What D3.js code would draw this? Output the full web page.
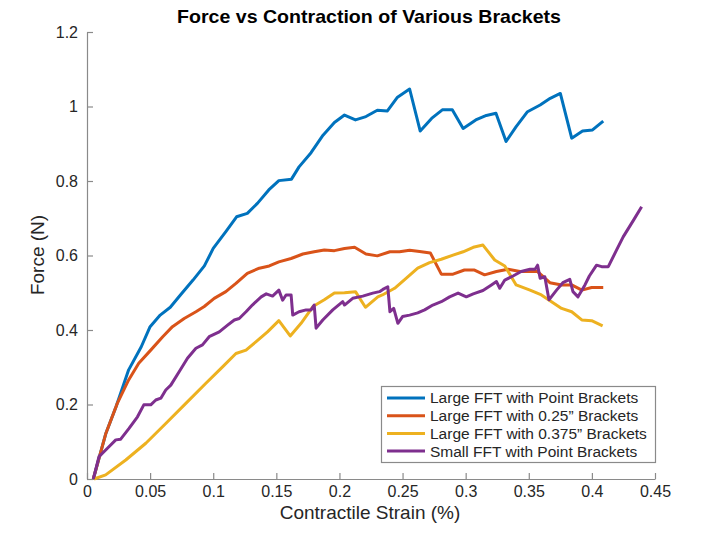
<!DOCTYPE html>
<html><head><meta charset="utf-8">
<script src="https://cdn.jsdelivr.net/npm/d3@7"></script>
<style>
html,body{margin:0;padding:0;background:#fff;}
svg{display:block;font-family:"Liberation Sans",Arial,Helvetica,sans-serif;}
</style></head>
<body>
<svg id="chart" width="720" height="535"></svg>
<script>
const title = "Force vs Contraction of Various Brackets";
const xLabel = "Contractile Strain (%)";
const yLabel = "Force (N)";
const xTicks = [0, 0.05, 0.1, 0.15, 0.2, 0.25, 0.3, 0.35, 0.4, 0.45];
const xTickLabels = ["0", "0.05", "0.1", "0.15", "0.2", "0.25", "0.3", "0.35", "0.4", "0.45"];
const yTicks = [0, 0.2, 0.4, 0.6, 0.8, 1, 1.2];
const yTickLabels = ["0", "0.2", "0.4", "0.6", "0.8", "1", "1.2"];
const seriesNames = ["Large FFT with Point Brackets", "Large FFT with 0.25\u201D Brackets", "Large FFT with 0.375\u201D Brackets", "Small FFT with Point Brackets"];
const seriesColors = ["#0072BD", "#D95319", "#EDB120", "#7E2F8E"];

const pointBrackets = [[0.005,0],[0.015,0.123],[0.023,0.194],[0.033,0.293],[0.043,0.355],[0.05,0.409],[0.058,0.44],[0.066,0.461],[0.074,0.494],[0.084,0.534],[0.093,0.572],[0.1,0.619],[0.11,0.664],[0.1185,0.704],[0.127,0.713],[0.135,0.74],[0.144,0.776],[0.152,0.801],[0.162,0.805],[0.168,0.838],[0.1775,0.876],[0.187,0.923],[0.196,0.957],[0.204,0.977],[0.2127,0.964],[0.221,0.973],[0.23,0.99],[0.238,0.988],[0.246,1.025],[0.2556,1.047],[0.264,0.934],[0.273,0.968],[0.2815,0.991],[0.2894,0.991],[0.298,0.941],[0.308,0.964],[0.3164,0.976],[0.324,0.982],[0.332,0.906],[0.34,0.946],[0.349,0.986],[0.359,1.004],[0.367,1.022],[0.375,1.035],[0.384,0.915],[0.3926,0.934],[0.4005,0.937],[0.409,0.961]];

const brackets025 = [[0.005,0],[0.015,0.123],[0.024,0.203],[0.033,0.266],[0.041,0.311],[0.0505,0.346],[0.06,0.382],[0.0677,0.409],[0.077,0.431],[0.0863,0.449],[0.0929,0.463],[0.1008,0.485],[0.11,0.503],[0.118,0.525],[0.127,0.552],[0.1365,0.566],[0.1444,0.572],[0.152,0.583],[0.1617,0.592],[0.171,0.604],[0.18,0.61],[0.188,0.615],[0.196,0.613],[0.204,0.619],[0.212,0.622],[0.221,0.604],[0.23,0.599],[0.24,0.61],[0.2476,0.61],[0.2556,0.614],[0.2635,0.611],[0.272,0.607],[0.2807,0.55],[0.29,0.55],[0.299,0.561],[0.307,0.561],[0.315,0.548],[0.3244,0.557],[0.3336,0.563],[0.343,0.557],[0.351,0.557],[0.357,0.557],[0.3667,0.527],[0.376,0.521],[0.384,0.521],[0.392,0.507],[0.3998,0.514],[0.409,0.514]];

const brackets0375 = [[0.0056,0],[0.0148,0.011],[0.0307,0.051],[0.0466,0.096],[0.0624,0.149],[0.0783,0.203],[0.0942,0.257],[0.1074,0.301],[0.118,0.337],[0.126,0.346],[0.134,0.369],[0.143,0.395],[0.152,0.425],[0.161,0.384],[0.1696,0.418],[0.179,0.463],[0.188,0.481],[0.196,0.499],[0.204,0.5],[0.2127,0.503],[0.2206,0.461],[0.2304,0.489],[0.234,0.494],[0.2437,0.512],[0.253,0.539],[0.262,0.566],[0.2714,0.581],[0.2807,0.59],[0.29,0.601],[0.298,0.61],[0.306,0.622],[0.3137,0.628],[0.323,0.588],[0.331,0.572],[0.34,0.521],[0.351,0.507],[0.36,0.494],[0.368,0.476],[0.376,0.458],[0.384,0.449],[0.392,0.427],[0.3998,0.425],[0.4085,0.411]];

const smallPoint = [[0.005,0],[0.0095,0.06],[0.016,0.082],[0.0228,0.105],[0.0267,0.107],[0.0333,0.136],[0.04,0.167],[0.045,0.199],[0.0505,0.199],[0.0545,0.212],[0.0585,0.217],[0.0624,0.239],[0.0664,0.252],[0.073,0.288],[0.0796,0.324],[0.0863,0.351],[0.0915,0.36],[0.0968,0.382],[0.1048,0.395],[0.1114,0.413],[0.1167,0.427],[0.1206,0.431],[0.126,0.449],[0.131,0.467],[0.138,0.489],[0.142,0.497],[0.147,0.491],[0.152,0.507],[0.155,0.48],[0.1577,0.494],[0.1617,0.494],[0.163,0.44],[0.168,0.449],[0.1736,0.454],[0.1775,0.454],[0.18,0.467],[0.1815,0.405],[0.1868,0.427],[0.1947,0.454],[0.2026,0.476],[0.204,0.467],[0.2105,0.485],[0.2185,0.491],[0.2264,0.499],[0.2317,0.503],[0.2344,0.509],[0.2383,0.516],[0.24,0.449],[0.243,0.458],[0.2463,0.418],[0.25,0.436],[0.2556,0.44],[0.262,0.446],[0.2675,0.454],[0.274,0.467],[0.2807,0.476],[0.2873,0.489],[0.294,0.499],[0.3005,0.489],[0.306,0.497],[0.3137,0.506],[0.3204,0.521],[0.3244,0.53],[0.327,0.512],[0.331,0.534],[0.3375,0.545],[0.344,0.557],[0.351,0.563],[0.355,0.563],[0.357,0.574],[0.359,0.539],[0.3627,0.543],[0.366,0.481],[0.372,0.507],[0.377,0.527],[0.3825,0.536],[0.385,0.503],[0.389,0.489],[0.3945,0.521],[0.398,0.545],[0.4037,0.574],[0.4077,0.57],[0.413,0.57],[0.4196,0.615],[0.4248,0.65],[0.433,0.695],[0.4394,0.731]];

const seriesData = [pointBrackets, brackets025, brackets0375, smallPoint];

const svg = d3.select("#chart");
const x = d3.scaleLinear().domain([0, 0.45]).range([87, 655]);
const y = d3.scaleLinear().domain([0, 1.2]).range([479, 32]);
const axisColor = "#8a8a8a";
const textColor = "#262626";

// x axis
const gx = svg.append("g").attr("transform", `translate(0,${y(0)})`)
  .call(d3.axisBottom(x).tickValues(xTicks).tickFormat((d,i)=>xTickLabels[i]).tickSizeInner(-6).tickSizeOuter(0).tickPadding(7));
// y axis
const gy = svg.append("g").attr("transform", `translate(${x(0)},0)`)
  .call(d3.axisLeft(y).tickValues(yTicks).tickFormat((d,i)=>yTickLabels[i]).tickSizeInner(-6).tickSizeOuter(0).tickPadding(9));
[gx, gy].forEach(g => {
  g.select(".domain").attr("stroke", axisColor).attr("stroke-width", 1.2);
  g.selectAll(".tick line").attr("stroke", axisColor).attr("stroke-width", 1.2);
  g.selectAll(".tick text").attr("fill", textColor).attr("font-size", 16).attr("font-family", "Liberation Sans, Arial, sans-serif");
});

// lines
const line = d3.line().x(d => x(d[0])).y(d => y(d[1]));
seriesData.forEach((s, i) => {
  svg.append("path").datum(s).attr("d", line)
    .attr("fill", "none").attr("stroke", seriesColors[i])
    .attr("stroke-width", 3).attr("stroke-linejoin", "round").attr("stroke-linecap", "butt");
});

// title
svg.append("text").attr("x", 369).attr("y", 23).attr("text-anchor", "middle")
  .attr("font-size", 18.5).attr("font-weight", "bold").attr("fill", "#000")
  .attr("textLength", 384).attr("lengthAdjust", "spacingAndGlyphs").text(title);
// x label
svg.append("text").attr("x", 370).attr("y", 519).attr("text-anchor", "middle")
  .attr("font-size", 19).attr("fill", textColor).text(xLabel);
// y label
svg.append("text").attr("transform", "translate(44,255) rotate(-90)").attr("text-anchor", "middle")
  .attr("font-size", 19).attr("fill", textColor).text(yLabel);

// legend
const lg = svg.append("g");
lg.append("rect").attr("x", 381.5).attr("y", 386.5).attr("width", 274).attr("height", 76)
  .attr("fill", "#fff").attr("stroke", axisColor).attr("stroke-width", 1.2);
seriesNames.forEach((name, i) => {
  const cy = 398 + i * 17.7;
  lg.append("line").attr("x1", 387).attr("x2", 425).attr("y1", cy).attr("y2", cy)
    .attr("stroke", seriesColors[i]).attr("stroke-width", 3);
  lg.append("text").attr("x", 430).attr("y", cy).attr("dy", "0.35em")
    .attr("font-size", 15.5).attr("fill", textColor).text(name);
});
</script>
</body></html>
